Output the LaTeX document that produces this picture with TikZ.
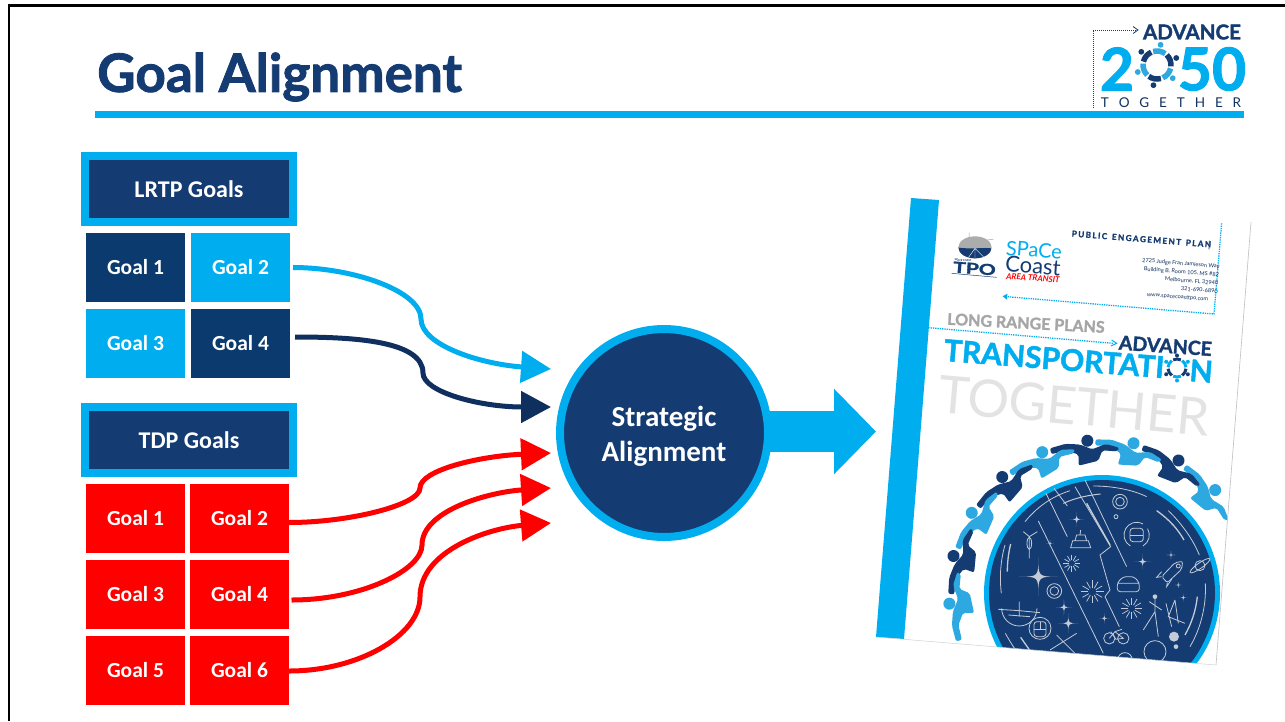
\documentclass[tikz,border=0pt]{standalone}
\usepackage{fontspec}
\setmainfont{Carlito}
\newfontfamily\lato{Lato}
\newfontfamily\latoh{Lato}[BoldFeatures={FakeBold=1.6}]
\usetikzlibrary{arrows.meta}
\definecolor{cy}{HTML}{00AEEF}
\definecolor{navy}{HTML}{143C73}
\definecolor{goaldk}{HTML}{0B3A6E}
\definecolor{arrdk}{HTML}{0F2F5F}
\definecolor{lightp}{HTML}{2EA8E0}
\definecolor{icon}{HTML}{C4CBD6}
\newcommand{\fs}[1]{\fontsize{#1}{#1}\selectfont}
\newcommand{\ringperson}[2]{%
  \begin{scope}[rotate=#1]
    \fill[#2] (0,-153) circle (6);
    \fill[#2,rounded corners=2] (-38,-149) -- (-22,-152) -- (-8,-150) -- (4,-144) -- (18,-148) -- (31,-143)
      -- (29,-139.5) -- (14,-142) -- (9,-132) -- (-11,-129) -- (-10,-140) -- (-22,-145.5) -- (-37,-143) -- cycle;
  \end{scope}}
\newcommand{\fstar}[3]{\fill[icon] (#1+#3,#2) .. controls (#1,#2) .. (#1,#2+#3) .. controls (#1,#2) .. (#1-#3,#2) .. controls (#1,#2) .. (#1,#2-#3) .. controls (#1,#2) .. cycle;}
\newcommand{\sunb}[3]{\foreach \a in {0,30,...,330}{\draw[icon,line width=.7] (#1,#2) ++(\a:#3*.35) -- ++(\a:#3*.65);}}
\tikzset{
  header/.style={draw=cy,fill=navy,line width=8,minimum width=208,minimum height=66,inner sep=0,outer sep=0,text=white,font=\bfseries\fs{24}},
  goalbox/.style={minimum width=99,minimum height=69,inner sep=0,outer sep=0,text=white,font=\bfseries\fs{21.5}},
  gdark/.style={goalbox,fill=goaldk},
  glight/.style={goalbox,fill=cy},
  gred/.style={goalbox,fill=red},
  curve/.style={line width=5,-{Triangle[length=30,width=31]}},
  iconl/.style={draw=icon,line width=.8}
}
\begin{document}
\begin{tikzpicture}[x=1pt,y=-1pt]
\useasboundingbox (0,0) rectangle (1285,721);
\fill[white] (0,0) rectangle (1285,721);
\draw[black,line width=2.5] (9,721) -- (9,5.5) -- (1285,5.5);
\node[anchor=west,text=navy,font=\latoh\bfseries\fs{53},inner sep=0] (title) at (97,77) {Goal Alignment};
\fill[cy] (95,111) rectangle (1244,118);

% headers
\node[header] (lrtp) at (189,189) {LRTP Goals};
\node[header] (tdp) at (189,440) {TDP Goals};
\node[gdark] (l1) at (135.5,267.5) {Goal 1};
\node[glight] (l2) at (240.5,267.5) {Goal 2};
\node[glight] (l3) at (135.5,343.5) {Goal 3};
\node[gdark] (l4) at (240.5,343.5) {Goal 4};
\node[gred] (t1) at (135.5,518.5) {Goal 1};
\node[gred] (t2) at (239.5,518.5) {Goal 2};
\node[gred] (t3) at (135.5,594.5) {Goal 3};
\node[gred] (t4) at (239.5,594.5) {Goal 4};
\node[gred] (t5) at (135.5,670.5) {Goal 5};
\node[gred] (t6) at (239.5,670.5) {Goal 6};

% centre
\node[circle,draw=cy,fill=navy,line width=8,minimum size=208,inner sep=0,outer sep=0] (sa) at (664,433) {};
\node[text=white,align=center,font=\bfseries\fs{29},inner sep=0] (salabel) at (664,436) {Strategic\\[6pt]Alignment};
\coordinate (ea) at (551,369);
\coordinate (eb) at (551,407);
\coordinate (ec) at (551,453);
\coordinate (ed) at (551,488);
\coordinate (ee) at (551,523);
\coordinate (doc) at (876,431.5);

\draw[curve,cy] ([xshift=3]l2.east) .. controls +(60,0) and +(0,-28) .. (421,319) .. controls (421,345) and (480,364) .. (ea);
\draw[curve,arrdk] ([shift={(5,-6.5)}]l4.east) .. controls +(60,0) and +(0,-32) .. (423,373) .. controls (423,392) and (480,407) .. (eb);
\draw[curve,red] ([yshift=-4]t2.east) .. controls +(60,0) and (420,505) .. (420,488) .. controls (420,470) and (480,456) .. (ec);
\draw[curve,red] ([shift={(2.5,5.5)}]t4.east) .. controls +(70,0) and (422,570) .. (422,545) .. controls (422,510) and (490,492) .. (ed);
\draw[curve,red] ([yshift=-0.5]t6.east) .. controls +(70,0) and (420,635) .. (420,597) .. controls (420,550) and (490,528) .. (ee);

\draw[line width=41,cy,-{Triangle[length=42,width=83]}] ([xshift=-4]sa.east |- doc) -- (doc);

% report cover
\begin{scope}
\clip (911,198) -- (1251,222) -- (1216,665) -- (876,637) -- cycle;
\fill[white] (911,198) -- (1251,222) -- (1216,665) -- (876,637) -- cycle;
\fill[cy] (911,198) -- (939,200) -- (904,639) -- (876,637) -- cycle;
% ring and disc
\fill[cy] (1102,593) circle (118);
\fill[navy] (1102,593) circle (113);
\begin{scope}[shift={(1102,593)}]
 \ringperson{-47.7}{lightp}
 \ringperson{-30}{navy}
 \ringperson{-11.9}{lightp}
 \ringperson{5.5}{navy}
 \ringperson{23}{lightp}
 \ringperson{40.7}{navy}
 \ringperson{58.4}{lightp}
 \ringperson{76}{navy}
 \ringperson{94}{lightp}
\end{scope}
\begin{scope}[shift={(860,420)},x=.3333pt,y=-.3333pt]
 \draw[iconl] (535,303) -- (730,700);
 \draw[iconl] (558,220) -- (622,350);
 \draw[iconl] (582,205) -- (622,258);
 \draw[iconl] (645,200) -- (752,380) -- (720,405) -- (750,510) -- (735,530) -- (778,620);
 \draw[iconl] (675,180) -- (800,440);
 \draw[icon,line width=1.4] (680,250) -- (750,375);
 \draw[iconl] (495,305) .. controls (540,250) and (590,225) .. (630,212);
 \draw[icon,line width=1] (610,250) .. controls (650,232) and (690,225) .. (722,222);
 \draw[iconl] (700,198) .. controls (760,198) and (820,210) .. (860,230);
 \draw[icon,line width=1.3] (890,272) .. controls (930,300) and (955,330) .. (972,360);
 \draw[iconl] (925,272) .. controls (965,310) and (1000,360) .. (1018,405);
 \draw[icon,line width=1.3] (1012,530) .. controls (1008,570) and (995,610) .. (975,645);
 \draw[iconl] (1036,490) .. controls (1040,560) and (1020,630) .. (990,680);
 \draw[icon,line width=1.3] (452,372) .. controls (445,400) and (442,430) .. (442,455);
 \draw[iconl] (435,375) .. controls (422,420) and (418,470) .. (424,520);
 \draw[iconl] (436,640) .. controls (450,665) and (465,690) .. (490,720);
 \draw[icon,line width=1.3] (482,652) -- (510,692);
 % stars
 \fstar{535}{470}{58}\fstar{650}{298}{22}\fstar{848}{425}{24}\fstar{625}{610}{30}
 \fstar{612}{562}{24}\fstar{733}{595}{16}\fstar{570}{370}{12}\fstar{933}{405}{13}
 \fstar{955}{495}{9}\fstar{970}{533}{13}
 % bursts
 \sunb{635}{430}{25}\sunb{815}{565}{32}\sunb{697}{515}{34}
 % medallions
 \draw[iconl] (780,245) circle (22); \draw[iconl] (780,245) circle (13);
 \draw[iconl] (583,513) circle (22); \draw[iconl] (583,513) circle (13);
 \draw[iconl] (768,290) circle (6);
 % ship
 \draw[iconl] (632,383) -- (692,383) -- (685,362) -- (638,362) -- cycle (645,362) -- (650,345) -- (675,345) -- (680,362) (660,345) -- (662,330);
 % bus
 \draw[iconl,rounded corners=3] (810,325) rectangle (850,365);
 \draw[iconl] (810,345) -- (850,345);
 \draw[iconl] (830,345) +(60:38) arc (60:-30:38);
 \draw[iconl] (830,345) +(120:38) arc (120:250:38);
 \draw[iconl] (830,345) +(-60:38) arc (-60:-110:38);
 % car
 \draw[iconl,rounded corners=3] (772,515) -- (772,488) -- (790,470) -- (822,470) -- (838,488) -- (838,515) -- cycle (772,490) -- (838,490);
 % rocket
 \draw[iconl,rounded corners=2] (905,470) -- (945,428) -- (968,424) -- (965,448) -- (922,488) -- cycle;
 \draw[iconl] (905,470) -- (890,472) -- (905,455) (922,488) -- (920,500) -- (935,478);
 \draw[iconl] (955,438) circle (6);
 % planet
 \draw[iconl] (1020,437) circle (15);
 \draw[iconl,rotate around={35:(1020,437)}] (1020,437) ellipse (36 and 8);
 % bike vertical
 \draw[iconl] (508,350) -- (508,415) (490,335) -- (508,350) -- (532,335);
 \draw[iconl] (508,370) ellipse (7 and 18);
 % bike
 \draw[iconl] (748,655) circle (17); \draw[iconl] (790,655) circle (17);
 \draw[iconl] (748,655) -- (765,635) -- (790,655) -- (768,658) -- (752,635) (765,635) -- (786,628);
 % plane
 \draw[iconl] (425,565) arc (180:0:53);
 \draw[iconl] (415,568) -- (478,572) -- (540,578) (478,545) -- (478,590) (445,585) -- (510,590);
 % train
 \draw[iconl] (540,625) circle (33);
 \draw[iconl,rounded corners=3] (522,605) rectangle (558,650);
 \draw[iconl] (522,628) -- (558,628) (540,605) -- (540,628);
 % constellations
 \draw[iconl] (885,530) -- (885,575) -- (850,630) (885,575) -- (895,650) (868,545) -- (905,570);
 \fill[icon] (885,530) circle (7);
 \draw[iconl] (918,550) -- (935,620) (945,540) -- (925,590) -- (975,610) (945,540) -- (955,610);
 \draw[iconl] (570,690) -- (650,640) (590,645) -- (660,715);
 % moons
 \fill[icon] (942,650) circle (15); \fill[icon] (948,680) circle (7);
 \draw[iconl] (885,695) circle (33);
 \draw[iconl] (795,720) circle (22);
\end{scope}
% cover typography
\node[rotate=-5,text=black!11,font=\lato\fs{52},inner sep=0] (tog) at (1074,406) {TOGETHER};
\begin{scope}[shift={(860,190)},x=.3333pt,y=-.3333pt]
 \draw[cy,line width=1.3,densely dotted] (1085,100) -- (1062,372) -- (440,320);
 \fill[cy] (428,319) -- (442,311) -- (441,329) -- cycle;
 \draw[cy,line width=1.3,densely dotted] (205,413) -- (760,460);
 \draw[cy,line width=1] (755,450) -- (770,460) -- (753,468);
 % TPO mark
 \fill[gray!65] (345,172) ellipse (50 and 33);
 \begin{scope}
  \clip (345,172) ellipse (50 and 33);
  \fill[navy] (290,172) .. controls (340,180) and (370,170) .. (400,176) -- (400,210) -- (290,210) -- cycle;
  \draw[white,line width=.4] (345,175) -- (320,210) (345,175) -- (345,210) (345,175) -- (375,205);
 \end{scope}
 \draw[gray!70,line width=.5] (327,128) -- (327,145) (380,150) -- (400,148);
 \draw[navy,line width=.5] (275,250) -- (410,262);
 \draw[navy,line width=.6] (1048,152) -- (1047,178);
\end{scope}
\node[rotate=-4,text=navy,font=\bfseries\fs{3},inner sep=0] (spc) at (963,260.5) {SPACE COAST};
\node[rotate=-4,xscale=1.4,text=navy,font=\latoh\bfseries\fs{15},inner sep=0] (tpo) at (974.5,268.5) {TPO};
\node[rotate=-4,text=cy,font=\lato\fs{20},inner sep=0] (sp1) at (1034,250) {SPaCe};
\node[rotate=-4,text=navy,font=\lato\fs{22},inner sep=0] (sp2) at (1033,266) {Coast};
\node[rotate=-4,text=red,font=\lato\bfseries\itshape\fs{8.2},inner sep=0] (sp3) at (1033,278) {AREA TRANSIT};
\node[rotate=-4.5,text=navy,font=\latoh\bfseries\fs{8.2},inner sep=0] (pep) at (1141.5,239) {P\,U\,B\,L\,I\,C\, \,E\,N\,G\,A\,G\,E\,M\,E\,N\,T\, \,P\,L\,A\,N};
\node[rotate=-4.5,text=navy!80!black,font=\lato\fs{5.6},inner sep=0,align=right,anchor=north east] (addr) at (1220,264) {2725 Judge Fran Jamieson Way\\[2.8pt]Building B, Room 105, MS \#82\\[2.8pt]Melbourne, FL 32940\hspace*{8pt}\\[2.8pt]321-690-6890\hspace*{8pt}\\[2.8pt]www.spacecoasttpo.com\hspace*{9pt}};
\node[rotate=-3,text=gray!70,font=\latoh\bfseries\fs{16},inner sep=0] (lrp) at (1026,323) {LONG RANGE PLANS};
\node[rotate=-4,text=navy,font=\latoh\bfseries\fs{19.5},inner sep=0,anchor=east] (adv) at (1212,349) {ADVANCE};
\node[rotate=-4.5,text=cy,font=\latoh\bfseries\fs{30},inner sep=0,anchor=west] (trans) at (944,350) {TRANSPORTATI};
\node[rotate=-4.5,text=cy,font=\latoh\bfseries\fs{30},inner sep=0,anchor=east] (transn) at (1213,372) {N};
\begin{scope}[shift={(1177,368)}]
 \foreach \a/\c in {0/navy,60/cy,120/navy,180/cy,240/navy,300/cy}{
  \draw[\c,line width=3] (\a+5:9) arc (\a+5:\a+55:9);
  \fill[\c] (\a+30:12.5) circle (2);}
\end{scope}
\end{scope}
\draw[black!25,line width=.6] (1251,222) -- (1216,665);
\draw[black!18,line width=.5] (876,637) -- (1216,665);

% logo
\draw[navy,line width=1,densely dotted] (1093,108) -- (1093,30) -- (1136,30);
\draw[navy,line width=.8] (1133,26.5) -- (1138,30) -- (1133,33.5);
\node[anchor=east,text=navy,font=\latoh\bfseries\fs{20.5},inner sep=0] (ladv) at (1241,32) {ADVANCE};
\node[text=cy,font=\latoh\bfseries\fs{59},inner sep=0] (l2k) at (1117,69) {2};
\node[text=cy,font=\latoh\bfseries\fs{59},inner sep=0] (l50) at (1212,69) {50};
\node[text=navy!85!black,font=\lato\fs{13.5},inner sep=0] (ltog) at (1171,103) {T\hspace{9.9pt}O\hspace{9.9pt}G\hspace{9.9pt}E\hspace{9.9pt}T\hspace{9.9pt}H\hspace{9.9pt}E\hspace{9.9pt}R};
\begin{scope}[shift={(1157,65)}]
 \foreach \a/\c in {10/lightp,70/navy,130/lightp,190/navy,250/lightp,310/navy}{
  \draw[\c,line width=5.5] (\a+4:14) arc (\a+4:\a+56:14);
  \fill[\c] (\a+30:20.5) circle (2.9);}
\end{scope}
\end{tikzpicture}
\end{document}
